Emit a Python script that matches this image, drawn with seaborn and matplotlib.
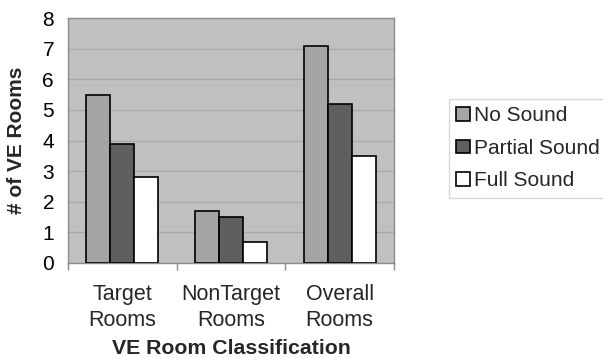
import matplotlib
matplotlib.use("Agg")
import matplotlib.pyplot as plt
import seaborn as sns
import pandas as pd
from matplotlib.ticker import FixedLocator

categories = ["Target\nRooms", "NonTarget\nRooms", "Overall\nRooms"]
series = ["No Sound", "Partial Sound", "Full Sound"]
no_sound = [5.5, 1.7, 7.1]
partial_sound = [3.9, 1.5, 5.2]
full_sound = [2.8, 0.7, 3.5]
y_ticks = [0, 1, 2, 3, 4, 5, 6, 7, 8]

df = pd.DataFrame({
    "category": categories * 3,
    "series": [s for s in series for _ in categories],
    "value": no_sound + partial_sound + full_sound,
})

sns.set_theme(style="white")
plt.rcParams["font.family"] = ["Liberation Sans", "DejaVu Sans"]

fig = plt.figure(figsize=(6.03, 3.58), dpi=100)
ax = fig.add_axes([68 / 603, 1 - 263 / 358, 326 / 603, 245 / 358])

palette = {"No Sound": "#a5a5a5", "Partial Sound": "#5f5f5f", "Full Sound": "#ffffff"}
sns.barplot(data=df, x="category", y="value", hue="series", hue_order=series,
            order=categories, palette=palette, width=0.66, gap=0,
            edgecolor="black", linewidth=1.2, saturation=1, ax=ax, zorder=3)

ax.set_facecolor("#c0c0c0")
ax.set_ylim(0, 8)
ax.set_xlim(-0.5, 2.5)
ax.set_yticks(y_ticks)
ax.yaxis.grid(True, color="#a8a8a8", linewidth=0.9, zorder=0)
ax.set_axisbelow(True)
for side, sp in ax.spines.items():
    sp.set_color("#8c8c8c")
    sp.set_linewidth(1.0)
    sp.set_visible(True)

ax.tick_params(axis="y", length=0, labelsize=15, pad=10, colors="black")
ax.tick_params(axis="x", which="major", length=0, labelsize=15.5, pad=15)
ax.xaxis.set_minor_locator(FixedLocator([-0.5, 0.5, 1.5, 2.5]))
ax.tick_params(axis="x", which="minor", length=5, color="#8c8c8c", width=1, bottom=True)
for lbl in ax.get_xticklabels():
    lbl.set_multialignment("center")
    lbl.set_linespacing(1.3)

ax.set_xlabel("VE Room Classification", fontsize=15.3, fontweight="bold", labelpad=6)
ax.set_ylabel("# of VE Rooms", fontsize=15, fontweight="bold", labelpad=12)

handles, labels = ax.get_legend_handles_labels()
ax.get_legend().remove()
leg = fig.legend(handles, labels, loc="upper left",
                 bbox_to_anchor=(449 / 603, 1 - 99 / 358),
                 fontsize=15, frameon=True, fancybox=False,
                 handlelength=0.65, handleheight=0.65, handletextpad=0.2,
                 labelspacing=0.65, borderpad=0.35, borderaxespad=0)
leg.get_frame().set_edgecolor("#d0d0d0")
leg.get_frame().set_linewidth(1.0)

fig.savefig("out.png", dpi=100)
